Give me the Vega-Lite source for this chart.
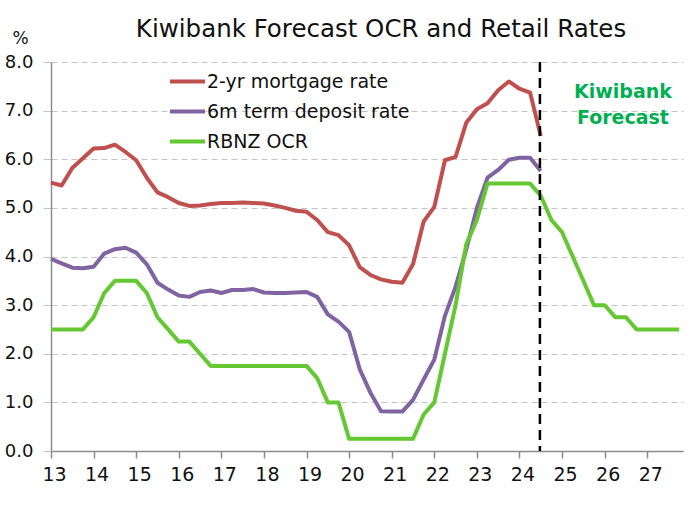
{
  "$schema": "https://vega.github.io/schema/vega-lite/v6.json",
  "autosize": "none",
  "width": 632,
  "height": 389,
  "padding": {"left": 51, "top": 62, "right": 17, "bottom": 55},
  "background": "white",
  "config": {
    "font": "DejaVu Sans",
    "view": {"stroke": null}
  },
  "title": {
    "text": "Kiwibank Forecast OCR and Retail Rates",
    "fontSize": 24.5,
    "fontWeight": "normal",
    "color": "#111111",
    "anchor": "middle",
    "frame": "group",
    "dx": 14,
    "dy": 32,
    "baseline": "alphabetic",
    "offset": 0
  },
  "datasets": {
    "rates": [
      {"t": 13.0, "series": "2-yr mortgage rate", "v": 5.52},
      {"t": 13.25, "series": "2-yr mortgage rate", "v": 5.46},
      {"t": 13.5, "series": "2-yr mortgage rate", "v": 5.82},
      {"t": 13.75, "series": "2-yr mortgage rate", "v": 6.02},
      {"t": 14.0, "series": "2-yr mortgage rate", "v": 6.22},
      {"t": 14.25, "series": "2-yr mortgage rate", "v": 6.23},
      {"t": 14.5, "series": "2-yr mortgage rate", "v": 6.30},
      {"t": 14.75, "series": "2-yr mortgage rate", "v": 6.15},
      {"t": 15.0, "series": "2-yr mortgage rate", "v": 5.98},
      {"t": 15.25, "series": "2-yr mortgage rate", "v": 5.62},
      {"t": 15.5, "series": "2-yr mortgage rate", "v": 5.32},
      {"t": 15.75, "series": "2-yr mortgage rate", "v": 5.22},
      {"t": 16.0, "series": "2-yr mortgage rate", "v": 5.10},
      {"t": 16.25, "series": "2-yr mortgage rate", "v": 5.04},
      {"t": 16.5, "series": "2-yr mortgage rate", "v": 5.05},
      {"t": 16.75, "series": "2-yr mortgage rate", "v": 5.08},
      {"t": 17.0, "series": "2-yr mortgage rate", "v": 5.10},
      {"t": 17.25, "series": "2-yr mortgage rate", "v": 5.10},
      {"t": 17.5, "series": "2-yr mortgage rate", "v": 5.11},
      {"t": 17.75, "series": "2-yr mortgage rate", "v": 5.10},
      {"t": 18.0, "series": "2-yr mortgage rate", "v": 5.09},
      {"t": 18.25, "series": "2-yr mortgage rate", "v": 5.05},
      {"t": 18.5, "series": "2-yr mortgage rate", "v": 5.00},
      {"t": 18.75, "series": "2-yr mortgage rate", "v": 4.94},
      {"t": 19.0, "series": "2-yr mortgage rate", "v": 4.92},
      {"t": 19.25, "series": "2-yr mortgage rate", "v": 4.75},
      {"t": 19.5, "series": "2-yr mortgage rate", "v": 4.50},
      {"t": 19.75, "series": "2-yr mortgage rate", "v": 4.44},
      {"t": 20.0, "series": "2-yr mortgage rate", "v": 4.23},
      {"t": 20.25, "series": "2-yr mortgage rate", "v": 3.78},
      {"t": 20.5, "series": "2-yr mortgage rate", "v": 3.62},
      {"t": 20.75, "series": "2-yr mortgage rate", "v": 3.53},
      {"t": 21.0, "series": "2-yr mortgage rate", "v": 3.48},
      {"t": 21.25, "series": "2-yr mortgage rate", "v": 3.46},
      {"t": 21.5, "series": "2-yr mortgage rate", "v": 3.84},
      {"t": 21.75, "series": "2-yr mortgage rate", "v": 4.72},
      {"t": 22.0, "series": "2-yr mortgage rate", "v": 5.02},
      {"t": 22.25, "series": "2-yr mortgage rate", "v": 5.98},
      {"t": 22.5, "series": "2-yr mortgage rate", "v": 6.05},
      {"t": 22.75, "series": "2-yr mortgage rate", "v": 6.75},
      {"t": 23.0, "series": "2-yr mortgage rate", "v": 7.03},
      {"t": 23.25, "series": "2-yr mortgage rate", "v": 7.15},
      {"t": 23.5, "series": "2-yr mortgage rate", "v": 7.42},
      {"t": 23.75, "series": "2-yr mortgage rate", "v": 7.60},
      {"t": 24.0, "series": "2-yr mortgage rate", "v": 7.45},
      {"t": 24.25, "series": "2-yr mortgage rate", "v": 7.37},
      {"t": 24.5, "series": "2-yr mortgage rate", "v": 6.48},

      {"t": 13.0, "series": "6m term deposit rate", "v": 3.95},
      {"t": 13.25, "series": "6m term deposit rate", "v": 3.86},
      {"t": 13.5, "series": "6m term deposit rate", "v": 3.77},
      {"t": 13.75, "series": "6m term deposit rate", "v": 3.76},
      {"t": 14.0, "series": "6m term deposit rate", "v": 3.79},
      {"t": 14.25, "series": "6m term deposit rate", "v": 4.06},
      {"t": 14.5, "series": "6m term deposit rate", "v": 4.15},
      {"t": 14.75, "series": "6m term deposit rate", "v": 4.18},
      {"t": 15.0, "series": "6m term deposit rate", "v": 4.08},
      {"t": 15.25, "series": "6m term deposit rate", "v": 3.84},
      {"t": 15.5, "series": "6m term deposit rate", "v": 3.46},
      {"t": 15.75, "series": "6m term deposit rate", "v": 3.32},
      {"t": 16.0, "series": "6m term deposit rate", "v": 3.20},
      {"t": 16.25, "series": "6m term deposit rate", "v": 3.17},
      {"t": 16.5, "series": "6m term deposit rate", "v": 3.27},
      {"t": 16.75, "series": "6m term deposit rate", "v": 3.30},
      {"t": 17.0, "series": "6m term deposit rate", "v": 3.25},
      {"t": 17.25, "series": "6m term deposit rate", "v": 3.31},
      {"t": 17.5, "series": "6m term deposit rate", "v": 3.31},
      {"t": 17.75, "series": "6m term deposit rate", "v": 3.33},
      {"t": 18.0, "series": "6m term deposit rate", "v": 3.26},
      {"t": 18.25, "series": "6m term deposit rate", "v": 3.25},
      {"t": 18.5, "series": "6m term deposit rate", "v": 3.25},
      {"t": 18.75, "series": "6m term deposit rate", "v": 3.26},
      {"t": 19.0, "series": "6m term deposit rate", "v": 3.27},
      {"t": 19.25, "series": "6m term deposit rate", "v": 3.17},
      {"t": 19.5, "series": "6m term deposit rate", "v": 2.81},
      {"t": 19.75, "series": "6m term deposit rate", "v": 2.66},
      {"t": 20.0, "series": "6m term deposit rate", "v": 2.45},
      {"t": 20.25, "series": "6m term deposit rate", "v": 1.68},
      {"t": 20.5, "series": "6m term deposit rate", "v": 1.20},
      {"t": 20.75, "series": "6m term deposit rate", "v": 0.82},
      {"t": 21.0, "series": "6m term deposit rate", "v": 0.81},
      {"t": 21.25, "series": "6m term deposit rate", "v": 0.81},
      {"t": 21.5, "series": "6m term deposit rate", "v": 1.05},
      {"t": 21.75, "series": "6m term deposit rate", "v": 1.47},
      {"t": 22.0, "series": "6m term deposit rate", "v": 1.88},
      {"t": 22.25, "series": "6m term deposit rate", "v": 2.78},
      {"t": 22.5, "series": "6m term deposit rate", "v": 3.38},
      {"t": 22.75, "series": "6m term deposit rate", "v": 4.14},
      {"t": 23.0, "series": "6m term deposit rate", "v": 5.00},
      {"t": 23.25, "series": "6m term deposit rate", "v": 5.62},
      {"t": 23.5, "series": "6m term deposit rate", "v": 5.78},
      {"t": 23.75, "series": "6m term deposit rate", "v": 5.99},
      {"t": 24.0, "series": "6m term deposit rate", "v": 6.03},
      {"t": 24.25, "series": "6m term deposit rate", "v": 6.03},
      {"t": 24.5, "series": "6m term deposit rate", "v": 5.76},

      {"t": 13.0, "series": "RBNZ OCR", "v": 2.5},
      {"t": 13.25, "series": "RBNZ OCR", "v": 2.5},
      {"t": 13.5, "series": "RBNZ OCR", "v": 2.5},
      {"t": 13.75, "series": "RBNZ OCR", "v": 2.5},
      {"t": 14.0, "series": "RBNZ OCR", "v": 2.75},
      {"t": 14.25, "series": "RBNZ OCR", "v": 3.25},
      {"t": 14.5, "series": "RBNZ OCR", "v": 3.5},
      {"t": 14.75, "series": "RBNZ OCR", "v": 3.5},
      {"t": 15.0, "series": "RBNZ OCR", "v": 3.5},
      {"t": 15.25, "series": "RBNZ OCR", "v": 3.25},
      {"t": 15.5, "series": "RBNZ OCR", "v": 2.75},
      {"t": 15.75, "series": "RBNZ OCR", "v": 2.5},
      {"t": 16.0, "series": "RBNZ OCR", "v": 2.25},
      {"t": 16.25, "series": "RBNZ OCR", "v": 2.25},
      {"t": 16.5, "series": "RBNZ OCR", "v": 2.0},
      {"t": 16.75, "series": "RBNZ OCR", "v": 1.75},
      {"t": 17.0, "series": "RBNZ OCR", "v": 1.75},
      {"t": 17.25, "series": "RBNZ OCR", "v": 1.75},
      {"t": 17.5, "series": "RBNZ OCR", "v": 1.75},
      {"t": 17.75, "series": "RBNZ OCR", "v": 1.75},
      {"t": 18.0, "series": "RBNZ OCR", "v": 1.75},
      {"t": 18.25, "series": "RBNZ OCR", "v": 1.75},
      {"t": 18.5, "series": "RBNZ OCR", "v": 1.75},
      {"t": 18.75, "series": "RBNZ OCR", "v": 1.75},
      {"t": 19.0, "series": "RBNZ OCR", "v": 1.75},
      {"t": 19.25, "series": "RBNZ OCR", "v": 1.5},
      {"t": 19.5, "series": "RBNZ OCR", "v": 1.0},
      {"t": 19.75, "series": "RBNZ OCR", "v": 1.0},
      {"t": 20.0, "series": "RBNZ OCR", "v": 0.25},
      {"t": 20.25, "series": "RBNZ OCR", "v": 0.25},
      {"t": 20.5, "series": "RBNZ OCR", "v": 0.25},
      {"t": 20.75, "series": "RBNZ OCR", "v": 0.25},
      {"t": 21.0, "series": "RBNZ OCR", "v": 0.25},
      {"t": 21.25, "series": "RBNZ OCR", "v": 0.25},
      {"t": 21.5, "series": "RBNZ OCR", "v": 0.25},
      {"t": 21.75, "series": "RBNZ OCR", "v": 0.75},
      {"t": 22.0, "series": "RBNZ OCR", "v": 1.0},
      {"t": 22.25, "series": "RBNZ OCR", "v": 2.0},
      {"t": 22.5, "series": "RBNZ OCR", "v": 3.0},
      {"t": 22.75, "series": "RBNZ OCR", "v": 4.25},
      {"t": 23.0, "series": "RBNZ OCR", "v": 4.75},
      {"t": 23.25, "series": "RBNZ OCR", "v": 5.5},
      {"t": 23.5, "series": "RBNZ OCR", "v": 5.5},
      {"t": 23.75, "series": "RBNZ OCR", "v": 5.5},
      {"t": 24.0, "series": "RBNZ OCR", "v": 5.5},
      {"t": 24.25, "series": "RBNZ OCR", "v": 5.5},
      {"t": 24.5, "series": "RBNZ OCR", "v": 5.25},
      {"t": 24.75, "series": "RBNZ OCR", "v": 4.75},
      {"t": 25.0, "series": "RBNZ OCR", "v": 4.5},
      {"t": 25.25, "series": "RBNZ OCR", "v": 4.0},
      {"t": 25.5, "series": "RBNZ OCR", "v": 3.5},
      {"t": 25.75, "series": "RBNZ OCR", "v": 3.0},
      {"t": 26.0, "series": "RBNZ OCR", "v": 3.0},
      {"t": 26.25, "series": "RBNZ OCR", "v": 2.75},
      {"t": 26.5, "series": "RBNZ OCR", "v": 2.75},
      {"t": 26.75, "series": "RBNZ OCR", "v": 2.5},
      {"t": 27.0, "series": "RBNZ OCR", "v": 2.5},
      {"t": 27.25, "series": "RBNZ OCR", "v": 2.5},
      {"t": 27.5, "series": "RBNZ OCR", "v": 2.5},
      {"t": 27.75, "series": "RBNZ OCR", "v": 2.5}
    ]
  },
  "layer": [
    {
      "data": {"name": "rates"},
      "mark": {"type": "line", "strokeJoin": "round", "strokeCap": "butt", "clip": false},
      "encoding": {
        "x": {
          "field": "t",
          "type": "quantitative",
          "scale": {"domain": [13, 27.84], "nice": false, "zero": false},
          "axis": {
            "title": null,
            "values": [13, 14, 15, 16, 17, 18, 19, 20, 21, 22, 23, 24, 25, 26, 27],
            "format": "d",
            "grid": false,
            "domainColor": "#8c8c8c",
            "domainWidth": 1.5,
            "tickColor": "#8c8c8c",
            "tickSize": 7,
            "tickWidth": 1.5,
            "labelFontSize": 19,
            "labelColor": "#111111",
            "labelPadding": 7,
            "labelOffset": 3,
            "labelFlush": false,
            "labelOverlap": false
          }
        },
        "y": {
          "field": "v",
          "type": "quantitative",
          "scale": {"domain": [0, 8], "nice": false},
          "axis": {
            "title": "%",
            "titleAngle": 0,
            "titleFontSize": 17,
            "titleFontWeight": "normal",
            "titleColor": "#111111",
            "titleX": -31,
            "titleY": -19,
            "titleAlign": "center",
            "titleBaseline": "alphabetic",
            "values": [0, 1, 2, 3, 4, 5, 6, 7, 8],
            "format": ".1f",
            "grid": true,
            "gridColor": "#c4c4c4",
            "gridDash": [6, 4],
            "gridWidth": 1.2,
            "domainColor": "#8c8c8c",
            "domainWidth": 1.5,
            "tickColor": "#c4c4c4",
            "tickSize": 8,
            "labelFontSize": 18,
            "labelColor": "#111111",
            "labelPadding": 10,
            "labelFlush": false,
            "labelOverlap": false
          }
        },
        "color": {
          "field": "series",
          "type": "nominal",
          "scale": {
            "domain": ["2-yr mortgage rate", "6m term deposit rate", "RBNZ OCR"],
            "range": ["#C0504D", "#8064A2", "#63C832"]
          },
          "legend": {
            "title": null,
            "orient": "none",
            "legendX": 117,
            "legendY": 0,
            "symbolType": "stroke",
            "symbolSize": 1225,
            "labelFontSize": 19,
            "labelColor": "#111111",
            "labelOffset": 0,
            "rowPadding": -4,
            "labelLimit": 400
          }
        },
        "strokeWidth": {
          "field": "series",
          "type": "nominal",
          "scale": {
            "domain": ["2-yr mortgage rate", "6m term deposit rate", "RBNZ OCR"],
            "range": [4, 4, 6.5]
          },
          "legend": null
        },
        "order": {"field": "t", "type": "quantitative"}
      }
    },
    {
      "data": {"values": [{}]},
      "mark": {"type": "rule", "color": "#000000", "strokeWidth": 2.5, "strokeDash": [10, 6]},
      "encoding": {
        "x": {"datum": 24.48, "type": "quantitative"}
      }
    },
    {
      "data": {"values": [{}]},
      "mark": {
        "type": "text",
        "color": "#00B050",
        "fontSize": 19,
        "fontWeight": "bold",
        "align": "center",
        "baseline": "middle",
        "lineHeight": 26
      },
      "encoding": {
        "x": {"datum": 26.43, "type": "quantitative"},
        "y": {"datum": 7.39, "type": "quantitative"},
        "text": {"value": ["Kiwibank", "Forecast"]}
      }
    }
  ]
}
